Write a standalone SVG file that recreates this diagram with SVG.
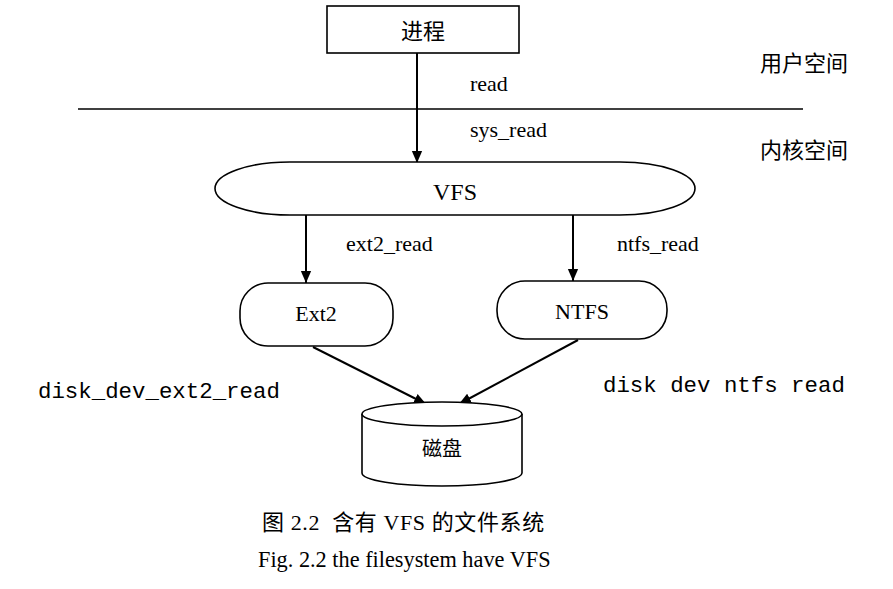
<svg xmlns="http://www.w3.org/2000/svg" width="893" height="589" viewBox="0 0 893 589">
<defs>
<marker id="arr" markerWidth="12" markerHeight="16" refX="14" refY="6" viewBox="0 0 14 12" markerUnits="userSpaceOnUse" orient="auto">
<path d="M0,0 L14,6 L0,12 Z" fill="#000"/>
</marker>
<style>
.s{fill:#fff;stroke:#000;stroke-width:1.6}
.c{stroke:#000;stroke-width:2;fill:none}
.t{font-family:"Liberation Serif","Times New Roman",serif;font-size:22px;fill:#000}
.m{font-family:"Liberation Mono","Courier New",monospace;font-size:22.4px;fill:#000}
.z{font-family:"Liberation Serif","Noto Sans CJK SC",serif;font-size:22px;fill:#000}
.mid{text-anchor:middle}
</style>
</defs>
<rect width="893" height="589" fill="#fff"/>
<line x1="78" y1="109" x2="803" y2="109" stroke="#000" stroke-width="1.5"/>
<g id="connectors">
<line class="c" x1="417" y1="53" x2="417" y2="163" marker-end="url(#arr)"/>
<line class="c" x1="306" y1="215" x2="306" y2="283" marker-end="url(#arr)"/>
<line class="c" x1="573" y1="215" x2="573" y2="281" marker-end="url(#arr)"/>
<line class="c" x1="313" y1="347" x2="426" y2="404" marker-end="url(#arr)"/>
<line class="c" x1="578" y1="340" x2="459" y2="404" marker-end="url(#arr)"/>
<text class="t" x="470" y="91">read</text>
<text class="t" x="470" y="137">sys_read</text>
<text class="t" x="346" y="251">ext2_read</text>
<text class="t" x="617" y="251">ntfs_read</text>
<text class="m" x="38" y="398">disk_dev_ext2_read</text>
<text class="m" x="603" y="392">disk dev ntfs read</text>
</g>
<g id="process">
<rect class="s" x="327" y="6" width="192" height="47"/>
<text class="z mid" x="423" y="39">进程</text>
</g>
<g id="labels">
<text class="z" x="760" y="71">用户空间</text>
<text class="z" x="760" y="158">内核空间</text>
</g>
<g id="vfs">
<rect class="s" x="215" y="162" width="480" height="53" rx="75" ry="26.5"/>
<text class="t mid" x="455" y="200" style="font-size:24px">VFS</text>
</g>
<g id="ext2">
<rect class="s" x="240" y="283" width="153" height="63" rx="28" ry="28"/>
<text class="t mid" x="316" y="321">Ext2</text>
</g>
<g id="ntfs">
<rect class="s" x="497" y="281" width="170" height="58" rx="28" ry="28"/>
<text class="t mid" x="582" y="319">NTFS</text>
</g>
<g id="disk">
<path class="s" d="M362,414 L362,473 A80,13 0 0 0 522,473 L522,414 A80,12 0 0 0 362,414 Z"/>
<path class="s" d="M362,414 A80,12 0 0 0 522,414" fill="none"/>
<text class="z mid" x="442" y="456" style="font-size:20px">磁盘</text>
</g>
<g id="caption">
<text class="z" x="262" y="530" style="font-size:22px;letter-spacing:0.6px" xml:space="preserve">图 2.2  含有 VFS 的文件系统</text>
<text class="t" x="258" y="567" style="font-size:22.3px">Fig. 2.2 the filesystem have VFS</text>
</g>
</svg>
